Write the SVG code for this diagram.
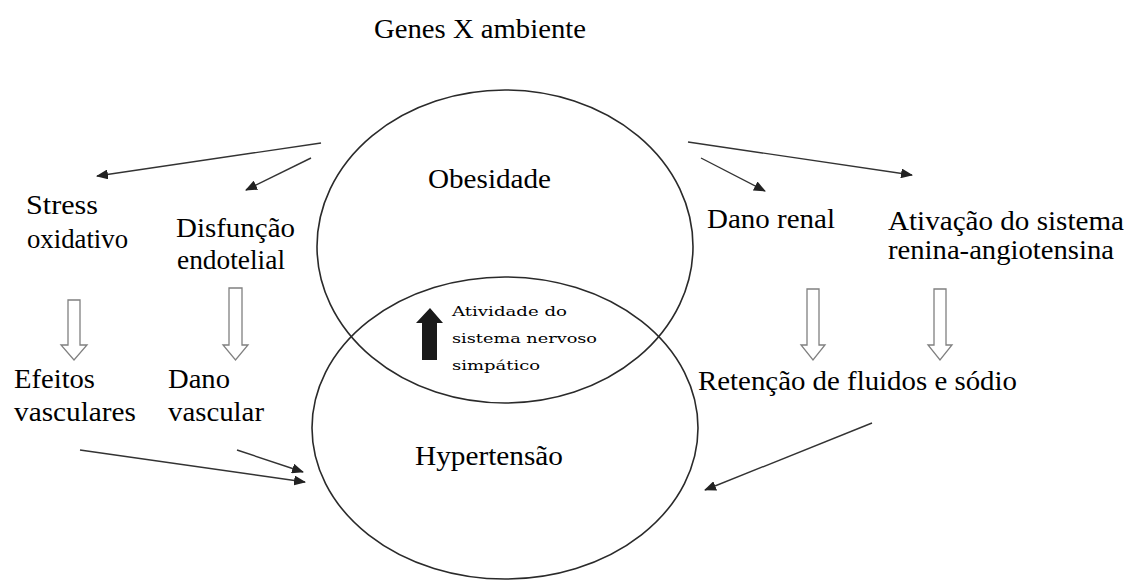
<svg xmlns="http://www.w3.org/2000/svg" width="1128" height="581" viewBox="0 0 1128 581">
<style>
.t{font-family:'Liberation Serif','Times New Roman',serif;font-size:28px;fill:#000}
.s{font-family:'DejaVu Serif',serif;font-size:13px;fill:#000}
.ell{fill:none;stroke:#2a2a2a;stroke-width:1.6}
.ln{fill:none;stroke:#333;stroke-width:1.4}
.blk{fill:#fff;stroke:#808080;stroke-width:1.3;stroke-linejoin:miter}
</style>
<defs>
<marker id="ah" viewBox="0 0 12 10" refX="11" refY="5" markerWidth="12" markerHeight="10" markerUnits="userSpaceOnUse" orient="auto">
<path d="M0,0 L12,5 L0,10 Z" fill="#222"/>
</marker>
</defs>
<rect width="1128" height="581" fill="#fff"/>

<g id="title">
<text class="t" x="374" y="38" textLength="212" lengthAdjust="spacingAndGlyphs">Genes X ambiente</text>
</g>

<g id="obesidade">
<ellipse class="ell" cx="505" cy="246.5" rx="188" ry="156.5"/>
<text class="t" x="428" y="188" textLength="123" lengthAdjust="spacingAndGlyphs">Obesidade</text>
</g>

<g id="hipertensao">
<ellipse class="ell" cx="505" cy="428" rx="193" ry="151"/>
<text class="t" x="415" y="465" textLength="148" lengthAdjust="spacingAndGlyphs">Hypertensão</text>
</g>

<g id="simpatico">
<path d="M430,308 L443,323 L437,323 L437,360 L422,360 L422,323 L416,323 Z" fill="#1a1a1a"/>
<text class="s" x="452" y="316" textLength="115" lengthAdjust="spacingAndGlyphs">Atividade do</text>
<text class="s" x="452" y="343" textLength="145" lengthAdjust="spacingAndGlyphs">sistema nervoso</text>
<text class="s" x="452" y="370" textLength="88" lengthAdjust="spacingAndGlyphs">simpático</text>
</g>

<g id="stress">
<text class="t" x="26" y="214" textLength="72" lengthAdjust="spacingAndGlyphs">Stress</text>
<text class="t" x="27" y="248" textLength="101" lengthAdjust="spacingAndGlyphs">oxidativo</text>
</g>

<g id="disfuncao">
<text class="t" x="176" y="237" textLength="119" lengthAdjust="spacingAndGlyphs">Disfunção</text>
<text class="t" x="177" y="269" textLength="108" lengthAdjust="spacingAndGlyphs">endotelial</text>
</g>

<g id="dano-renal">
<text class="t" x="707" y="228" textLength="128" lengthAdjust="spacingAndGlyphs">Dano renal</text>
</g>

<g id="ativacao">
<text class="t" x="888" y="230" textLength="236" lengthAdjust="spacingAndGlyphs">Ativação do sistema</text>
<text class="t" x="888" y="259" textLength="226" lengthAdjust="spacingAndGlyphs">renina-angiotensina</text>
</g>

<g id="efeitos">
<text class="t" x="14" y="388" textLength="81" lengthAdjust="spacingAndGlyphs">Efeitos</text>
<text class="t" x="14" y="421" textLength="122" lengthAdjust="spacingAndGlyphs">vasculares</text>
</g>

<g id="dano-vascular">
<text class="t" x="168" y="388" textLength="62" lengthAdjust="spacingAndGlyphs">Dano</text>
<text class="t" x="168" y="421" textLength="96" lengthAdjust="spacingAndGlyphs">vascular</text>
</g>

<g id="retencao">
<text class="t" x="698" y="390" textLength="319" lengthAdjust="spacingAndGlyphs">Retenção de fluidos e sódio</text>
</g>

<g id="connectors">
<line class="ln" x1="321" y1="143" x2="97" y2="176" marker-end="url(#ah)"/>
<line class="ln" x1="311" y1="158" x2="246" y2="190" marker-end="url(#ah)"/>
<line class="ln" x1="688" y1="142" x2="912" y2="175" marker-end="url(#ah)"/>
<line class="ln" x1="701" y1="158" x2="765" y2="191" marker-end="url(#ah)"/>
<line class="ln" x1="80" y1="450" x2="305" y2="482" marker-end="url(#ah)"/>
<line class="ln" x1="237" y1="450" x2="303" y2="472" marker-end="url(#ah)"/>
<line class="ln" x1="872" y1="423" x2="705" y2="490" marker-end="url(#ah)"/>
<path class="blk" d="M68,300 L80,300 L80,345 L87,345 L74,360 L61,345 L68,345 Z"/>
<path class="blk" d="M229,288 L242,288 L242,345 L248,345 L235.5,360 L223,345 L229,345 Z"/>
<path class="blk" d="M807,289 L819,289 L819,345 L825,345 L813,360 L801,345 L807,345 Z"/>
<path class="blk" d="M934,289 L946,289 L946,345 L952,345 L940,360 L928,345 L934,345 Z"/>
</g>
</svg>
